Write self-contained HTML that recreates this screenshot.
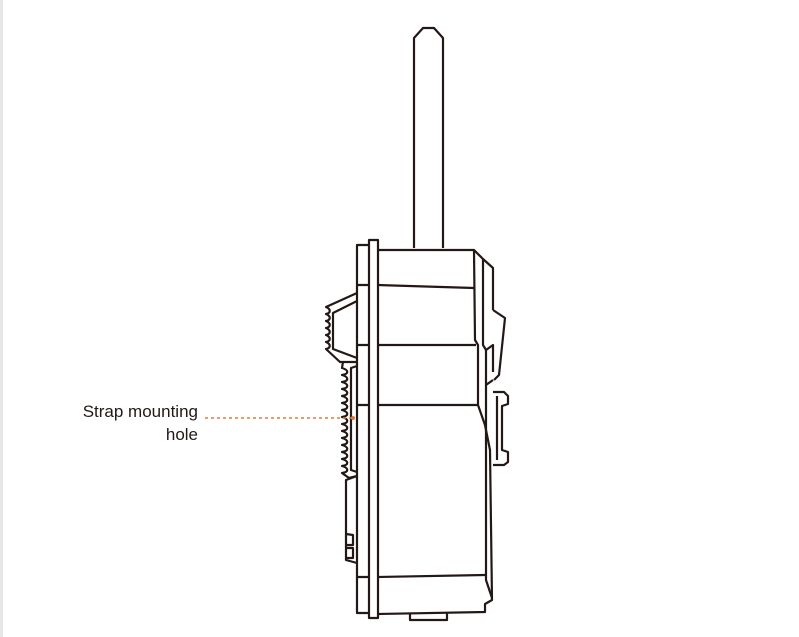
<!DOCTYPE html>
<html><head><meta charset="utf-8"><style>
html,body{margin:0;padding:0;background:#fff;}
body{width:799px;height:637px;overflow:hidden;position:relative;}
.lbl{position:absolute;font-family:"Liberation Sans",sans-serif;font-size:17px;color:#231815;text-align:right;line-height:23px;}
</style></head><body>
<div style="position:absolute;left:0;top:0;width:3px;height:637px;background:#e6e6e6"></div>
<div class="lbl" style="left:30px;top:400px;width:168px;">Strap mounting<br>hole</div>
<svg width="799" height="637" style="position:absolute;left:0;top:0" fill="none" stroke="#231815" stroke-width="2.2" stroke-linejoin="round">
<!-- antenna -->
<path d="M414,248 L414,38 L423,28 L434,28 L443,38 L443,248"/>
<!-- main body -->
<path d="M378,250 L474,250 L483,259 L493,268 L493,310"/>
<path d="M474,250 L475,340 L478,345 L478,405 L485,425 L490,450 L492,600 L485,604 L485,612 L378,614"/>
<path d="M483,259 L483,345 L486,350 L486,580 L492,598"/>
<!-- horizontal bands -->
<path d="M378,285 L474,288 M378,345 L476,345 M378,405 L478,405 M378,577 L485,575"/>
<!-- plates -->
<path d="M369,240 L378,240 L378,618 L369,618 Z"/>
<path d="M369,245 L357,245 L357,613 L369,613"/>
<path d="M357,285 L369,285 M357,345 L369,345 M357,405 L369,405 M357,577 L369,577"/>
<!-- bottom tab -->
<path d="M410,613 L410,620 L447,620 L447,613"/>
<!-- upper clip with teeth -->
<path d="M357,293 L326,307 C331,309 331,313 326,314 C331,316 331,320 326,321 C331,323 331,327 326,328 C331,330 331,334 326,335 C331,337 331,341 326,342 C331,344 331,348 326,349 L340,362 L357,362"/>
<path d="M357,301 L333,313 L333,349 L357,358"/>
<!-- lower comb -->
<path d="M343,362 L342,368 C349,370 349,374 342,375 C349,377 349,381 342,382 C349,384 349,388 342,389 C349,391 349,395 342,396 C349,398 349,402 342,403 C349,405 349,409 342,410 C349,412 349,416 342,417 C349,419 349,423 342,424 C349,426 349,430 342,431 C349,433 349,437 342,438 C349,440 349,444 342,445 C349,447 349,451 342,452 C349,454 349,458 342,459 C349,461 349,465 342,466 C349,468 349,472 342,473 L349,478 L357,476"/>
<path d="M357,366 L351,368 L351,470 L357,472"/>
<!-- lower box -->
<path d="M357,476 L346,480 L346,560 L357,563"/>
<path d="M346,534 L353,535 L353,545 L346,545 M346,548 L353,548 L353,558 L346,558"/>
<!-- right clips -->
<path d="M493,310 L505,318 L499,375 L494,380"/>
<path d="M486,350 L493,345 L493,372 M486,385 L493,380"/>
<path d="M493,392 L504,392 L508,396 L508,404 L502,406 L502,450 L508,452 L508,462 L504,465 L493,465"/>
<path d="M497,396 L497,460"/>
</svg>
<svg width="799" height="637" style="position:absolute;left:0;top:0">
<line x1="205" y1="418" x2="352" y2="418" stroke="#e07a3a" stroke-width="1.4" stroke-dasharray="3,3"/>
<circle cx="353" cy="418" r="2" fill="#e07a3a"/>
</svg>
</body></html>
